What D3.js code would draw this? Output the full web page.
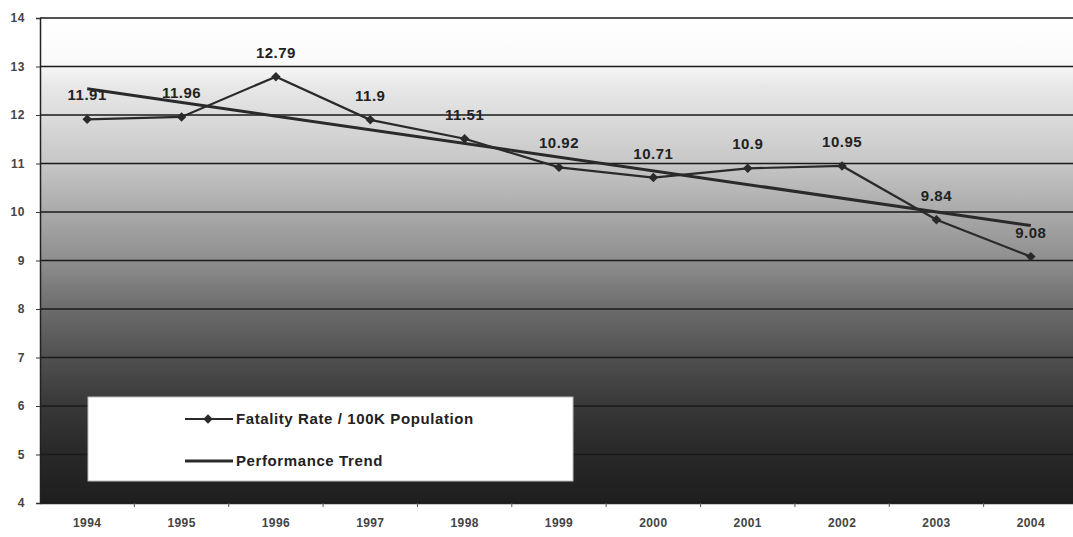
<!DOCTYPE html>
<html><head><meta charset="utf-8">
<script src="https://cdn.jsdelivr.net/npm/d3@7/dist/d3.min.js"></script>
<style>body{margin:0;background:#fff}svg{display:block}</style>
</head><body>
<svg id="c" width="1073" height="537"></svg>
<script>
const years = ["1994","1995","1996","1997","1998","1999","2000","2001","2002","2003","2004"];
const fatalityRate = [11.91,11.96,12.79,11.9,11.51,10.92,10.71,10.9,10.95,9.84,9.08];
const trendYears = ["1994","2004"];
const trendValues = [12.54,9.72];
const yTicks = [4,5,6,7,8,9,10,11,12,13,14];
const legendLabels = ["Fatality Rate / 100K Population","Performance Trend"];

const svg = d3.select("#c");
const FONT = "Arial, Liberation Sans, sans-serif";
const L = 40, R = 1078, T = 18, B = 503;
const x = d3.scaleBand().domain(years).range([L, R]);
const y = d3.scaleLinear().domain([4, 14]).range([B, T]);
const cx = d => x(d) + x.bandwidth()/2;

const defs = svg.append("defs");
const g = defs.append("linearGradient").attr("id","bg").attr("x1",0).attr("y1",0).attr("x2",0).attr("y2",1);
[[0,"#ffffff"],[0.09,"#fafafa"],[0.14,"#e8e8e8"],[0.2,"#dcdcdc"],[0.3,"#c6c6c6"],[0.4,"#aaaaaa"],[0.5,"#8e8e8e"],[0.6,"#6c6c6c"],[0.7,"#505050"],[0.8,"#383838"],[0.9,"#282828"],[1,"#1e1e1e"]]
  .forEach(s => g.append("stop").attr("offset", s[0]).attr("stop-color", s[1]));

svg.append("rect").attr("x", L).attr("y", T).attr("width", R - L).attr("height", B - T).attr("fill", "url(#bg)");

// gridlines
svg.append("g").selectAll("line").data(yTicks).join("line")
  .attr("x1", L).attr("x2", R).attr("y1", d => y(d)).attr("y2", d => y(d))
  .attr("stroke", "#1a1a1a").attr("stroke-width", 1.5);

// y axis
const ya = svg.append("g").attr("transform", `translate(${L},0)`)
  .call(d3.axisLeft(y).tickValues(yTicks).tickSize(4).tickPadding(11).tickFormat(d3.format("d")));
ya.select(".domain").attr("stroke", "#222").attr("stroke-width", 1.5);
ya.selectAll("line").attr("stroke", "#333");
ya.selectAll("text").attr("font-family", FONT).attr("font-size", 12).attr("font-weight", "bold").attr("fill", "#444").attr("letter-spacing", 0.6);

// x axis
const xa = svg.append("g").attr("transform", `translate(0,${B})`)
  .call(d3.axisBottom(x).tickSize(0).tickPadding(15));
xa.select(".domain").attr("stroke", "#222").attr("stroke-width", 1.5);
xa.selectAll("text").attr("font-family", FONT).attr("font-size", 12).attr("font-weight", "bold").attr("fill", "#444").attr("letter-spacing", 0.4);
svg.append("g").selectAll("line").data(years.slice(1)).join("line")
  .attr("x1", d => x(d)).attr("x2", d => x(d)).attr("y1", B).attr("y2", B + 4)
  .attr("stroke", "#555");

// trend line
const line = d3.line().x(d => cx(d[0])).y(d => y(d[1]));
svg.append("path").datum(trendYears.map((d,i) => [d, trendValues[i]]))
  .attr("d", line).attr("fill", "none").attr("stroke", "#2a2a2a").attr("stroke-width", 3);

// data line
const pts = years.map((d,i) => [d, fatalityRate[i]]);
svg.append("path").datum(pts).attr("d", line).attr("fill", "none").attr("stroke", "#2a2a2a").attr("stroke-width", 2.2);
const marker = d3.symbol(d3.symbolSquare, 45);
svg.append("g").selectAll("path").data(pts).join("path")
  .attr("d", marker)
  .attr("transform", d => `translate(${cx(d[0])},${y(d[1])}) rotate(45)`)
  .attr("fill", "#2a2a2a");

// labels
svg.append("g").selectAll("text").data(pts).join("text")
  .attr("x", d => cx(d[0]))
  .attr("y", d => y(d[1]) - 19)
  .attr("text-anchor", "middle")
  .attr("font-family", FONT).attr("font-size", 15).attr("font-weight", "bold").attr("letter-spacing", 0.5)
  .attr("fill", "#222")
  .text(d => d[1]);

// legend
const lg = svg.append("g");
lg.append("rect").attr("x", 88).attr("y", 397).attr("width", 485).attr("height", 84).attr("fill", "#fff").attr("stroke", "#bbb");
lg.append("line").attr("x1", 185).attr("x2", 233).attr("y1", 419).attr("y2", 419).attr("stroke", "#2a2a2a").attr("stroke-width", 2);
lg.append("path").attr("d", marker).attr("transform", "translate(208,419) rotate(45)").attr("fill", "#2a2a2a");
lg.append("line").attr("x1", 185).attr("x2", 233).attr("y1", 461).attr("y2", 461).attr("stroke", "#2a2a2a").attr("stroke-width", 3);
lg.selectAll("text").data(legendLabels).join("text")
  .attr("x", 236).attr("y", (d,i) => 424 + i*42)
  .attr("font-family", FONT).attr("font-size", 15).attr("font-weight", "bold").attr("letter-spacing", 0.6).attr("fill", "#222")
  .text(d => d);
</script>
</body></html>
